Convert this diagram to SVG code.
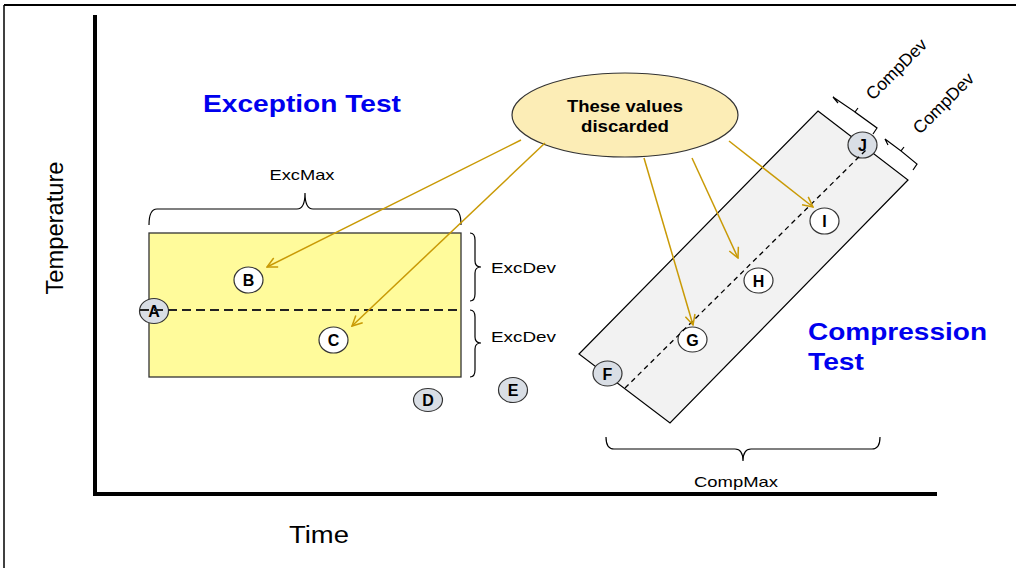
<svg xmlns="http://www.w3.org/2000/svg" width="1016" height="568" viewBox="0 0 1016 568">
<defs>
<marker id="ah" viewBox="0 0 12 12" refX="11" refY="6" markerWidth="12" markerHeight="12" markerUnits="userSpaceOnUse" orient="auto">
<path d="M1,1 L11,6 L1,11" fill="none" stroke="#C99A06" stroke-width="1.5"/>
</marker>
</defs>
<style>
.lbl{font-family:"Liberation Sans",Arial,sans-serif;fill:#000}
.title{font-family:"Liberation Sans",Arial,sans-serif;font-weight:bold;fill:#0000EE;font-size:24px}
.pt{stroke:#333;stroke-width:1.2}
.g{fill:#d9dee5}
.w{fill:#fff}
.pl{font-family:"Liberation Sans",Arial,sans-serif;font-size:16px;font-weight:bold;text-anchor:middle;fill:#000}
.arr{stroke:#C99A06;stroke-width:1.5;fill:none;marker-end:url(#ah)}
.brace{fill:none;stroke:#000;stroke-width:1.2}
</style>
<rect width="1016" height="568" fill="#fff"/>
<!-- frame -->
<line x1="4" y1="5" x2="1016" y2="5" stroke="#000" stroke-width="2.2"/>
<line x1="4" y1="5" x2="4" y2="568" stroke="#000" stroke-width="1.5"/>
<!-- axes -->
<g id="axes">
<line x1="95" y1="15" x2="95" y2="496" stroke="#000" stroke-width="4"/>
<line x1="93" y1="494" x2="937" y2="494" stroke="#000" stroke-width="4"/>
<text class="lbl" font-size="24" transform="translate(63,228) rotate(-90)" text-anchor="middle" textLength="133" lengthAdjust="spacingAndGlyphs">Temperature</text>
<text class="lbl" font-size="23" x="289" y="543" textLength="60" lengthAdjust="spacingAndGlyphs">Time</text>
</g>
<!-- Exception test -->
<g id="exception-area">
<text class="title" x="203" y="112" textLength="198" lengthAdjust="spacingAndGlyphs">Exception Test</text>
<rect x="149" y="233" width="312" height="144" fill="#FFFB9B" stroke="#333" stroke-width="1.3"/>
<path class="brace" d="M149,225 Q149,209 157,209 L297,209 Q305,209 305,193 Q305,209 313,209 L453,209 Q461,209 461,225"/>
<text class="lbl" font-size="15" x="302" y="180" text-anchor="middle" textLength="65" lengthAdjust="spacingAndGlyphs">ExcMax</text>
<path class="brace" d="M470,233 Q475,233 475,240 L475,261 Q475,267 481,267 Q475,267 475,273 L475,294 Q475,301 470,301"/>
<path class="brace" d="M470,310 Q475,310 475,317 L475,337 Q475,343 481,343 Q475,343 475,349 L475,370 Q475,377 470,377"/>
<text class="lbl" font-size="15" x="491" y="273" textLength="65" lengthAdjust="spacingAndGlyphs">ExcDev</text>
<text class="lbl" font-size="15" x="491" y="342" textLength="65" lengthAdjust="spacingAndGlyphs">ExcDev</text>
</g>
<!-- Compression test -->
<g id="compression-area">
<polygon points="818,111 908,180 670,423 579,354" fill="#f2f2f2" stroke="#000" stroke-width="1.2"/>
<text class="title" x="808" y="340" textLength="179" lengthAdjust="spacingAndGlyphs">Compression</text>
<text class="title" x="808" y="370" textLength="56" lengthAdjust="spacingAndGlyphs">Test</text>
<path class="brace" d="M606,437 Q606,449 614,449 L735,449 Q743,449 743,461 Q743,449 751,449 L872,449 Q880,449 880,437"/>
<text class="lbl" font-size="15" x="736" y="487" text-anchor="middle" textLength="84" lengthAdjust="spacingAndGlyphs">CompMax</text>
<path class="brace" d="M838,103 L833,97 L855,112 L858,108 L855,112 L877,128 L873,134"/>
<path class="brace" d="M888,145 L885,139 L901,151 L904,147 L901,151 L917,164 L913,170"/>
<text class="lbl" font-size="17.5" transform="translate(873,101) rotate(-45)" textLength="78" lengthAdjust="spacingAndGlyphs">CompDev</text>
<text class="lbl" font-size="17.5" transform="translate(920,135) rotate(-45)" textLength="78" lengthAdjust="spacingAndGlyphs">CompDev</text>
</g>
<!-- callout -->
<g id="discarded">
<ellipse cx="625" cy="115" rx="113" ry="42" fill="#FCEDB6" stroke="#333" stroke-width="1.2"/>
<text class="lbl" font-size="17" font-weight="bold" x="567" y="112" textLength="116" lengthAdjust="spacingAndGlyphs">These values</text>
<text class="lbl" font-size="17" font-weight="bold" x="581" y="132" textLength="88" lengthAdjust="spacingAndGlyphs">discarded</text>
</g>
<!-- points -->
<g id="A"><ellipse class="pt g" cx="154" cy="311" rx="14.5" ry="12.5"/><text class="pl" x="154" y="317">A</text></g>
<g id="B"><ellipse class="pt w" cx="248.5" cy="280" rx="14.5" ry="13"/><text class="pl" font-weight="normal" x="248.5" y="286">B</text></g>
<g id="C"><ellipse class="pt w" cx="333.5" cy="340" rx="14.5" ry="13"/><text class="pl" x="333.5" y="346">C</text></g>
<g id="D"><ellipse class="pt g" cx="428" cy="400" rx="14.5" ry="11.5"/><text class="pl" x="428" y="406">D</text></g>
<g id="E"><ellipse class="pt g" cx="513" cy="390" rx="14.5" ry="12.5"/><text class="pl" x="513" y="396">E</text></g>
<g id="F"><ellipse class="pt g" cx="607.5" cy="373.5" rx="14.5" ry="12.5"/><text class="pl" x="607.5" y="379.5">F</text></g>
<g id="G"><ellipse class="pt w" cx="692.5" cy="339.5" rx="14.5" ry="12.5"/><text class="pl" x="692.5" y="345.5">G</text></g>
<g id="H"><ellipse class="pt w" cx="758.5" cy="280.5" rx="14.5" ry="12.5"/><text class="pl" x="758.5" y="286.5">H</text></g>
<g id="I"><ellipse class="pt w" cx="824.5" cy="221" rx="14.5" ry="13"/><text class="pl" x="824.5" y="227">I</text></g>
<g id="J"><ellipse class="pt g" cx="862.5" cy="145" rx="14.5" ry="13"/><text class="pl" x="862.5" y="151">J</text></g>
<!-- connectors -->
<g id="connectors">
<line x1="140" y1="310" x2="461" y2="310" stroke="#222" stroke-width="1.8" stroke-dasharray="9,5"/>
<line x1="625" y1="388" x2="866" y2="150" stroke="#000" stroke-width="1.3" stroke-dasharray="5,4"/>
<line class="arr" x1="521" y1="140" x2="267" y2="267"/>
<line class="arr" x1="545" y1="143" x2="352" y2="326"/>
<line class="arr" x1="644" y1="158" x2="693" y2="325"/>
<line class="arr" x1="692" y1="158" x2="738" y2="258"/>
<line class="arr" x1="729" y1="141" x2="813" y2="207"/>
</g>
</svg>
